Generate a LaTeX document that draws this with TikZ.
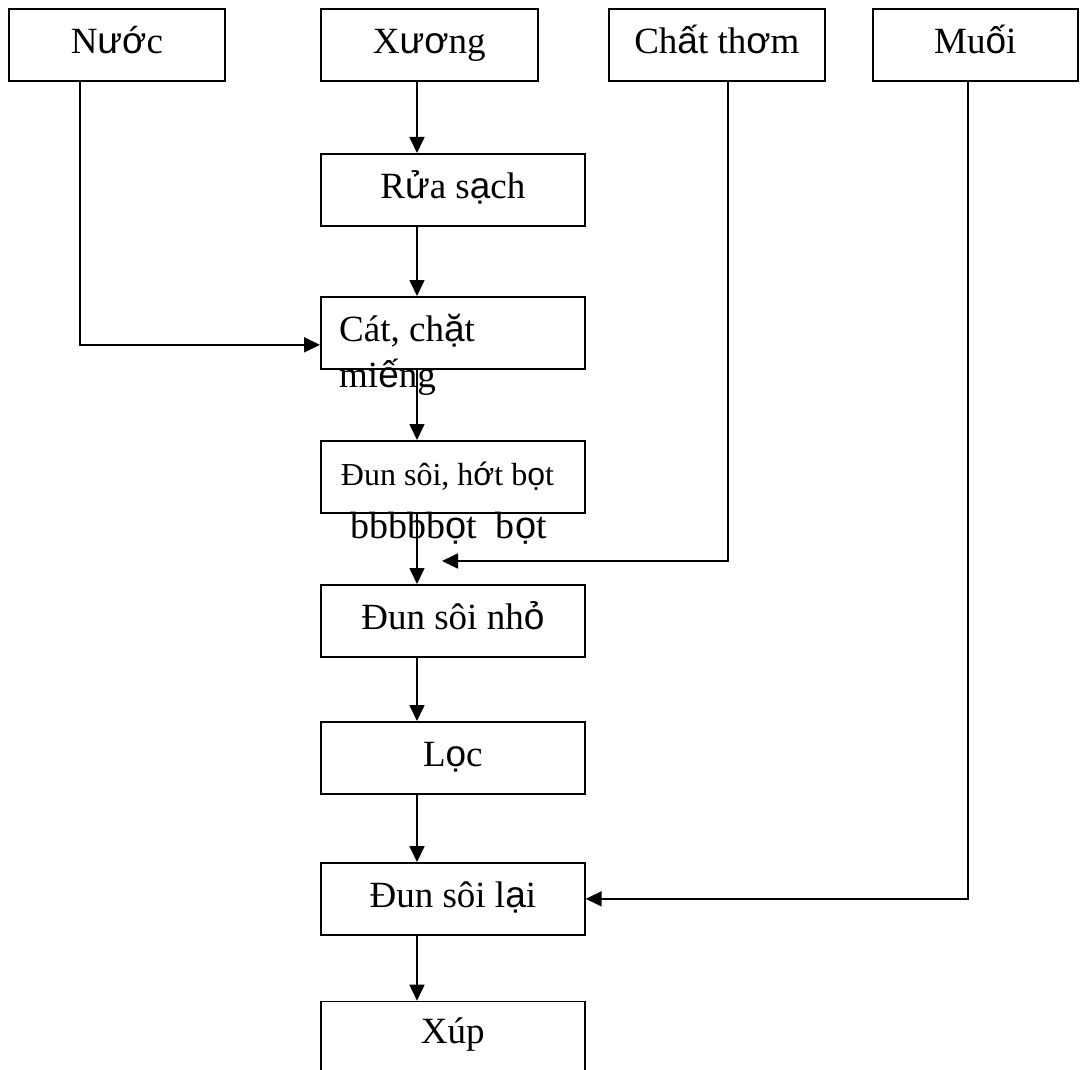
\documentclass[tikz,border=0pt]{standalone}
\usepackage{fontspec}
\setmainfont{Liberation Serif}
\newfontfamily\altsans{Liberation Sans}
\usetikzlibrary{arrows.meta}
% a few accented letters are set in the sans family
\newcommand\vsans[1]{{\altsans #1}}

\begin{document}
\begin{tikzpicture}[x=1pt,y=-1pt,
  box/.style={draw, line width=1.7pt, minimum width=#1, minimum height=72pt,
    inner sep=0pt, anchor=north west, font=\fontsize{37}{46}\selectfont,
    text height=27pt, text depth=10pt},
  box/.default=264pt,
  txt/.style={inner sep=0pt, font=\fontsize{37}{46}\selectfont},
  flow/.style={line width=1.7pt, -{Triangle[length=16pt,width=15pt]}}]

\clip (0,0) rectangle (1080,1070);
\fill[white] (0,0) rectangle (1080,1070);

% guide columns for the connectors
\coordinate (spine) at (417,0);
\coordinate (nx) at (80,0);
\coordinate (cx) at (728,0);
\coordinate (mx) at (968,0);

% inputs
\node[box=216pt] (nuoc)  at (8,8)   {N\vsans{ướ}c};
\node[box=217pt] (xuong) at (320,8) {X\vsans{ươ}ng};
\node[box=216pt] (chat)  at (608,8) {Ch\vsans{ấ}t th\vsans{ơ}m};
\node[box=205pt] (muoi)  at (872,8) {Mu\vsans{ố}i};

% process steps
\node[box] (rua) at (320,153) {R\vsans{ử}a s\vsans{ạ}ch};
\node[box] (cat) at (320,296) {};
\node[txt, anchor=base west, align=left] (cattxt) at (339,387)
  {Cát, ch\vsans{ặ}t\\mi\vsans{ế}ng};
\node[box] (hot) at (320,440) {};
\node[inner sep=0pt, anchor=base, font=\fontsize{32}{38}\selectfont] (hottxt) at (447.5,485)
  {Đun sôi, h\vsans{ớ}t b\vsans{ọ}t};
\node[inner sep=0pt, anchor=base, font=\fontsize{38}{46}\selectfont] (hottxt2) at (448.5,538)
  {bbbbb\vsans{ọ}t\ \ b\vsans{ọ}t};
\node[box] (nho) at (320,584) {Đun sôi nh\vsans{ỏ}};
\node[box] (loc) at (320,721) {L\vsans{ọ}c};
\node[box] (lai) at (320,862) {Đun sôi l\vsans{ạ}i};
\node[box, minimum height=90pt, text height=10pt, text depth=16pt] (xup) at (320,1000.7) {Xúp};

% main line
\draw[flow] (xuong.south -| spine) -- (rua.north -| spine);
\draw[flow] (rua.south -| spine) -- (cat.north -| spine);
\draw[flow] (cat.south -| spine) -- (hot.north -| spine);
\draw[flow] (hot.south -| spine) -- (nho.north -| spine);
\draw[flow] (nho.south -| spine) -- (loc.north -| spine);
\draw[flow] (loc.south -| spine) -- (lai.north -| spine);
\draw[flow] (lai.south -| spine) -- (xup.north -| spine);

% side inputs
\draw[flow] (nuoc.south -| nx) |- ([yshift=-12pt]cat.west);
\coordinate (aroma) at (442,561);
\draw[flow] (chat.south -| cx) |- (aroma);
\draw[flow] (muoi.south -| mx) |- (lai.east);
\end{tikzpicture}
\end{document}
